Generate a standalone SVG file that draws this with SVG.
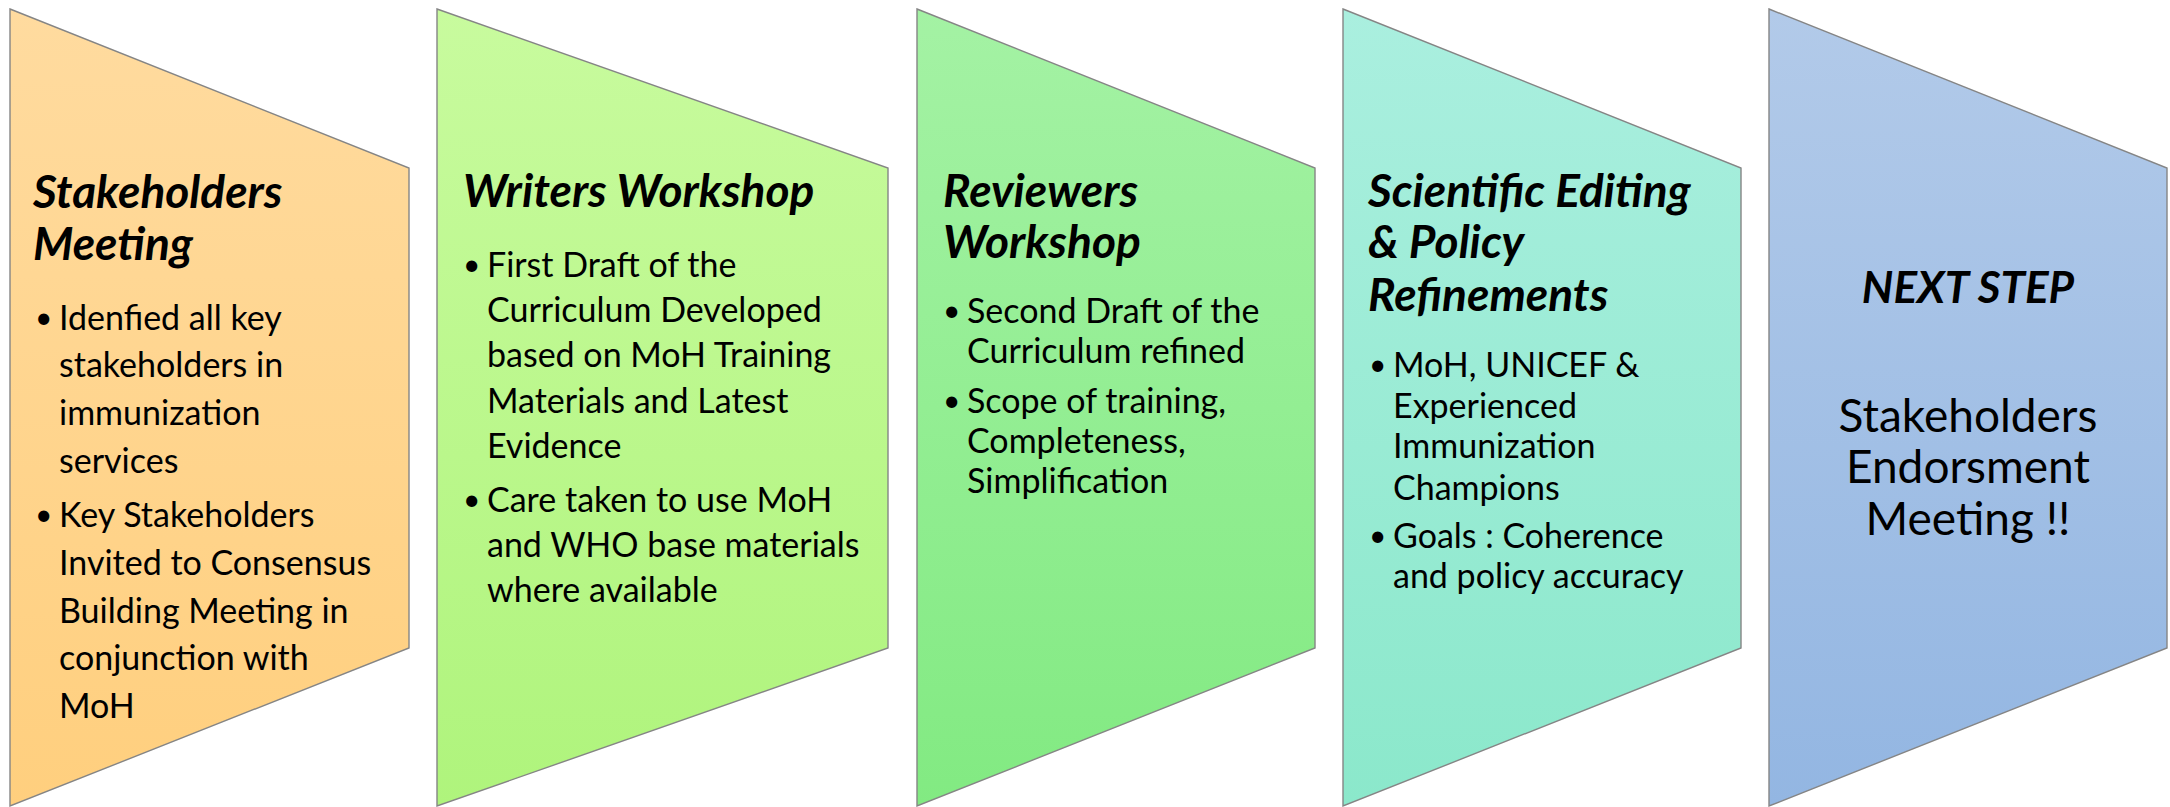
<svg xmlns="http://www.w3.org/2000/svg" width="2170" height="807" viewBox="0 0 2170 807">
<defs>
<linearGradient id="g1" x1="0" y1="0" x2="0" y2="1"><stop offset="0" stop-color="#FFDB9F"/><stop offset="1" stop-color="#FFCF7E"/></linearGradient>
<linearGradient id="g2" x1="0" y1="0" x2="0" y2="1"><stop offset="0" stop-color="#C8FB9E"/><stop offset="1" stop-color="#AFF47C"/></linearGradient>
<linearGradient id="g3" x1="0" y1="0" x2="0" y2="1"><stop offset="0" stop-color="#A4F2A4"/><stop offset="1" stop-color="#82EA82"/></linearGradient>
<linearGradient id="g4" x1="0" y1="0" x2="0" y2="1"><stop offset="0" stop-color="#AAEFDF"/><stop offset="1" stop-color="#8BE8CB"/></linearGradient>
<linearGradient id="g5" x1="0" y1="0" x2="0" y2="1"><stop offset="0" stop-color="#B2CAE9"/><stop offset="1" stop-color="#93B6E2"/></linearGradient>
</defs>
<style>
.shape{stroke:#858585;stroke-width:1.4}
.title{font-family:Lato,"Liberation Sans",sans-serif;font-weight:bold;font-style:italic;font-size:46px;fill:#000}
.body{font-family:Lato,"Liberation Sans",sans-serif;font-size:34px;fill:#000}
.bul{font-family:Lato,"Liberation Sans",sans-serif;font-size:30px;fill:#000}
.big{font-family:Lato,"Liberation Sans",sans-serif;font-size:46px;fill:#000;text-anchor:middle}
</style>
<g id="connectors"></g>
<g id="stakeholders-meeting">
<polygon class="shape" fill="url(#g1)" points="10,9 409,168 409,648 10,806"/>
<text class="title" x="33" y="208">Stakeholders</text>
<text class="title" x="33" y="260">Meeting</text>
<text class="bul" x="35" y="328">•</text>
<text class="body" x="59" y="330">Idenfied all key</text>
<text class="body" x="59" y="377">stakeholders in</text>
<text class="body" x="59" y="425">immunization</text>
<text class="body" x="59" y="473">services</text>
<text class="bul" x="35" y="525">•</text>
<text class="body" x="59" y="527">Key Stakeholders</text>
<text class="body" x="59" y="575">Invited to Consensus</text>
<text class="body" x="59" y="623">Building Meeting in</text>
<text class="body" x="59" y="670">conjunction with</text>
<text class="body" x="59" y="718">MoH</text>
</g>
<g id="writers-workshop">
<polygon class="shape" fill="url(#g2)" points="437,9 888,168 888,648 437,806"/>
<text class="title" x="463" y="207">Writers Workshop</text>
<text class="bul" x="463" y="275">•</text>
<text class="body" x="487" y="277">First Draft of the</text>
<text class="body" x="487" y="322">Curriculum Developed</text>
<text class="body" x="487" y="367">based on MoH Training</text>
<text class="body" x="487" y="413">Materials and Latest</text>
<text class="body" x="487" y="458">Evidence</text>
<text class="bul" x="463" y="510">•</text>
<text class="body" x="487" y="512">Care taken to use MoH</text>
<text class="body" x="487" y="557">and WHO base materials</text>
<text class="body" x="487" y="602">where available</text>
</g>
<g id="reviewers-workshop">
<polygon class="shape" fill="url(#g3)" points="917,9 1315,168 1315,648 917,806"/>
<text class="title" x="943" y="207">Reviewers</text>
<text class="title" x="943" y="258">Workshop</text>
<text class="bul" x="943" y="321">•</text>
<text class="body" x="967" y="323">Second Draft of the</text>
<text class="body" x="967" y="363">Curriculum refined</text>
<text class="bul" x="943" y="411">•</text>
<text class="body" x="967" y="413">Scope of training,</text>
<text class="body" x="967" y="453">Completeness,</text>
<text class="body" x="967" y="493">Simplification</text>
</g>
<g id="scientific-editing">
<polygon class="shape" fill="url(#g4)" points="1343,9 1741,168 1741,648 1343,806"/>
<text class="title" x="1368" y="207">Scientific Editing</text>
<text class="title" x="1368" y="258">&amp; Policy</text>
<text class="title" x="1368" y="311">Refinements</text>
<text class="bul" x="1369" y="375">•</text>
<text class="body" x="1393" y="377">MoH, UNICEF &amp;</text>
<text class="body" x="1393" y="418">Experienced</text>
<text class="body" x="1393" y="458">Immunization</text>
<text class="body" x="1393" y="500">Champions</text>
<text class="bul" x="1369" y="546">•</text>
<text class="body" x="1393" y="548">Goals : Coherence</text>
<text class="body" x="1393" y="588">and policy accuracy</text>
</g>
<g id="next-step">
<polygon class="shape" fill="url(#g5)" points="1769,9 2167,168 2167,648 1769,806"/>
<text class="title" x="1968" y="303" text-anchor="middle" style="font-size:44px">NEXT STEP</text>
<text class="big" x="1968" y="432">Stakeholders</text>
<text class="big" x="1968" y="483">Endorsment</text>
<text class="big" x="1968" y="535">Meeting !!</text>
</g>
</svg>
